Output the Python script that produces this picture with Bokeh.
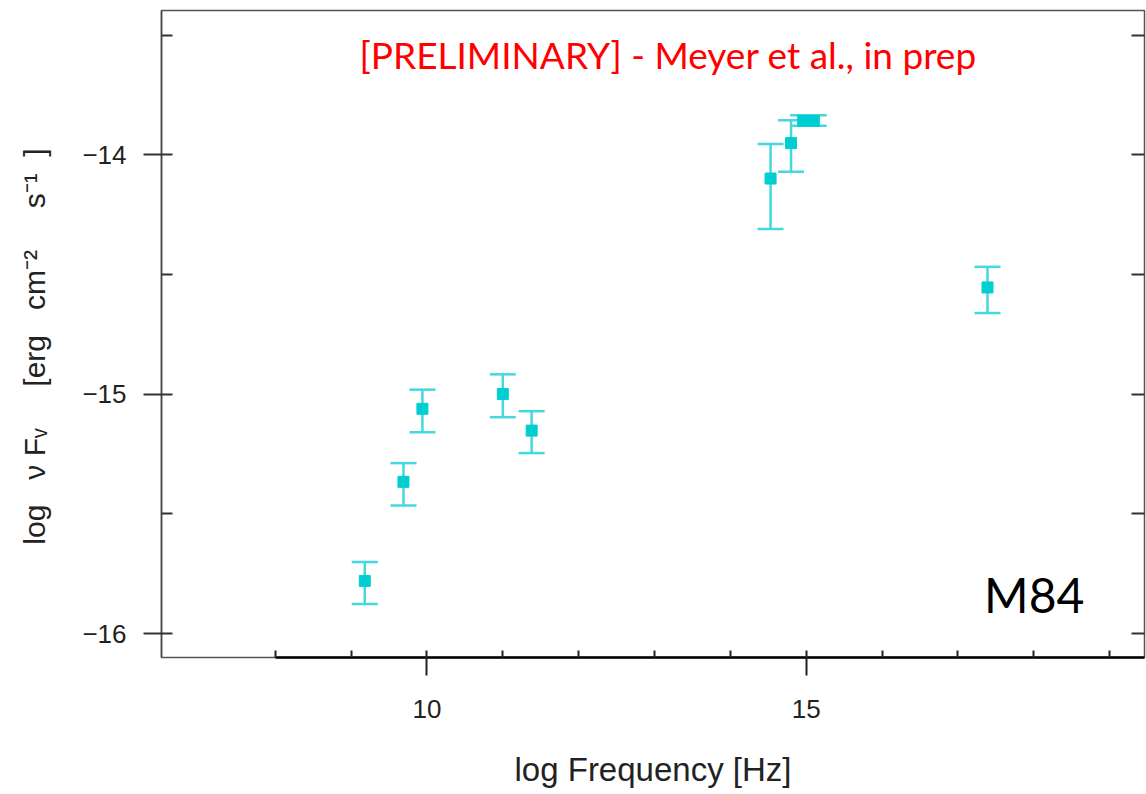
from bokeh.plotting import figure
from bokeh.models import (ColumnDataSource, FixedTicker, LinearAxis, Whisker,
                          TeeHead, Label, Range1d)
from bokeh.embed import file_html
from bokeh.resources import INLINE

# ---- data ----
log_freq = [9.18, 9.69, 9.94, 11.00, 11.38, 14.53, 14.80, 14.96, 15.10, 17.39]
log_nufnu = [-15.78, -15.366, -15.061, -14.999, -15.152, -14.099, -13.951, -13.858, -13.858, -14.554]
err_low = [-15.876, -15.465, -15.159, -15.096, -15.246, -14.310, -14.071, -13.879, -13.879, -14.661]
err_high = [-15.701, -15.288, -14.981, -14.917, -15.071, -13.955, -13.855, -13.835, -13.835, -14.468]

x_major = [10, 15]
x_minor = [8, 9, 11, 12, 13, 14, 16, 17, 18, 19]
y_major = [-16, -15, -14]
y_minor = [-15.5, -14.5, -13.5]
y_tick_labels = ["\u221216", "\u221215", "\u221214"]
x_tick_labels = ["10", "15"]

title_note = "[PRELIMINARY] - Meyer et al., in prep"
source_name = "M84"
x_label = "log Frequency [Hz]"
NB = "\u00a0"
y_label = ("log" + NB * 3 + "\u03bd" + NB + "F\u1d65" + NB * 5 + "[erg" + NB * 3 +
           "cm\u207b\u00b2" + NB * 5 + "s\u207b\u00b9" + NB * 2 + "]" + NB * 3)

MARK = "#00CED1"
BAR = "#45D8DE"
AXFONT = "Liberation Sans"

src = ColumnDataSource(dict(x=log_freq, y=log_nufnu, lower=err_low, upper=err_high))

p = figure(width=1146, height=794,
           x_range=Range1d(6.5, 19.46), y_range=Range1d(-16.1, -13.397),
           output_backend="svg", toolbar_location=None,
           min_border_left=161, min_border_right=2,
           min_border_top=10, min_border_bottom=137)
p.xgrid.visible = False
p.ygrid.visible = False
p.outline_line_color = "#555555"
p.outline_line_width = 1.5
p.background_fill_color = "white"
p.border_fill_color = "white"

# x axis
xa = p.xaxis[0]
xa.ticker = FixedTicker(ticks=x_major, minor_ticks=x_minor)
xa.major_label_overrides = {t: l for t, l in zip(x_major, x_tick_labels)}
xa.bounds = (8, 19.46)
xa.axis_line_color = "black"
xa.axis_line_width = 2.5
xa.major_tick_in = 7
xa.major_tick_out = 18
xa.minor_tick_in = 7
xa.minor_tick_out = 0
xa.major_tick_line_color = "#222222"
xa.major_tick_line_width = 2
xa.minor_tick_line_color = "#222222"
xa.minor_tick_line_width = 2
xa.major_label_text_font = AXFONT
xa.major_label_text_font_size = "26px"
xa.major_label_text_color = "#222222"
xa.major_label_standoff = 24
xa.axis_label = x_label
xa.axis_label_text_font = AXFONT
xa.axis_label_text_font_size = "33px"
xa.axis_label_text_font_style = "normal"
xa.axis_label_text_color = "#222222"
xa.axis_label_standoff = 30

# y axis
ya = p.yaxis[0]
ya.ticker = FixedTicker(ticks=y_major, minor_ticks=y_minor)
ya.major_label_overrides = {t: l for t, l in zip(y_major, y_tick_labels)}
ya.axis_line_color = "#444444"
ya.axis_line_width = 1.5
ya.major_tick_in = 11
ya.major_tick_out = 18
ya.minor_tick_in = 11
ya.minor_tick_out = 0
ya.major_tick_line_color = "#333333"
ya.major_tick_line_width = 2
ya.minor_tick_line_color = "#333333"
ya.minor_tick_line_width = 2
ya.major_label_text_font = AXFONT
ya.major_label_text_font_size = "26px"
ya.major_label_text_color = "#222222"
ya.major_label_standoff = 17
ya.axis_label = y_label
ya.axis_label_text_font = AXFONT
ya.axis_label_text_font_size = "30px"
ya.axis_label_text_font_style = "normal"
ya.axis_label_text_color = "#222222"
ya.axis_label_standoff = 28

# right axis: inward ticks only, no labels
r_ticks = y_major + y_minor
ra = LinearAxis(ticker=FixedTicker(ticks=r_ticks, minor_ticks=[]))
ra.major_label_overrides = {t: "" for t in r_ticks}
ra.major_label_standoff = 0
ra.axis_line_color = None
ra.major_tick_in = 13
ra.major_tick_out = 0
ra.major_tick_line_color = "#333333"
ra.major_tick_line_width = 2
ra.minor_tick_line_color = None
p.add_layout(ra, "right")

# error bars + points
w = Whisker(source=src, base="x", upper="upper", lower="lower", dimension="height",
            line_color=BAR, line_width=2.5,
            upper_head=TeeHead(size=26, line_color=BAR, line_width=2.5),
            lower_head=TeeHead(size=26, line_color=BAR, line_width=2.5))
w.level = "underlay"
p.add_layout(w)
p.scatter("x", "y", source=src, marker="square", size=11,
          fill_color=MARK, line_color=MARK)

p.add_layout(Label(x=13.18, y=-13.582, text=title_note, text_align="center",
                   text_baseline="middle", text_color="red",
                   text_font="Lato", text_font_size="37px"))
p.add_layout(Label(x=17.345, y=-15.837, text=source_name, text_align="left",
                   text_baseline="middle", text_color="black",
                   text_font="Lato", text_font_size="48px"))

open("out.html", "w").write(file_html(p, INLINE))
